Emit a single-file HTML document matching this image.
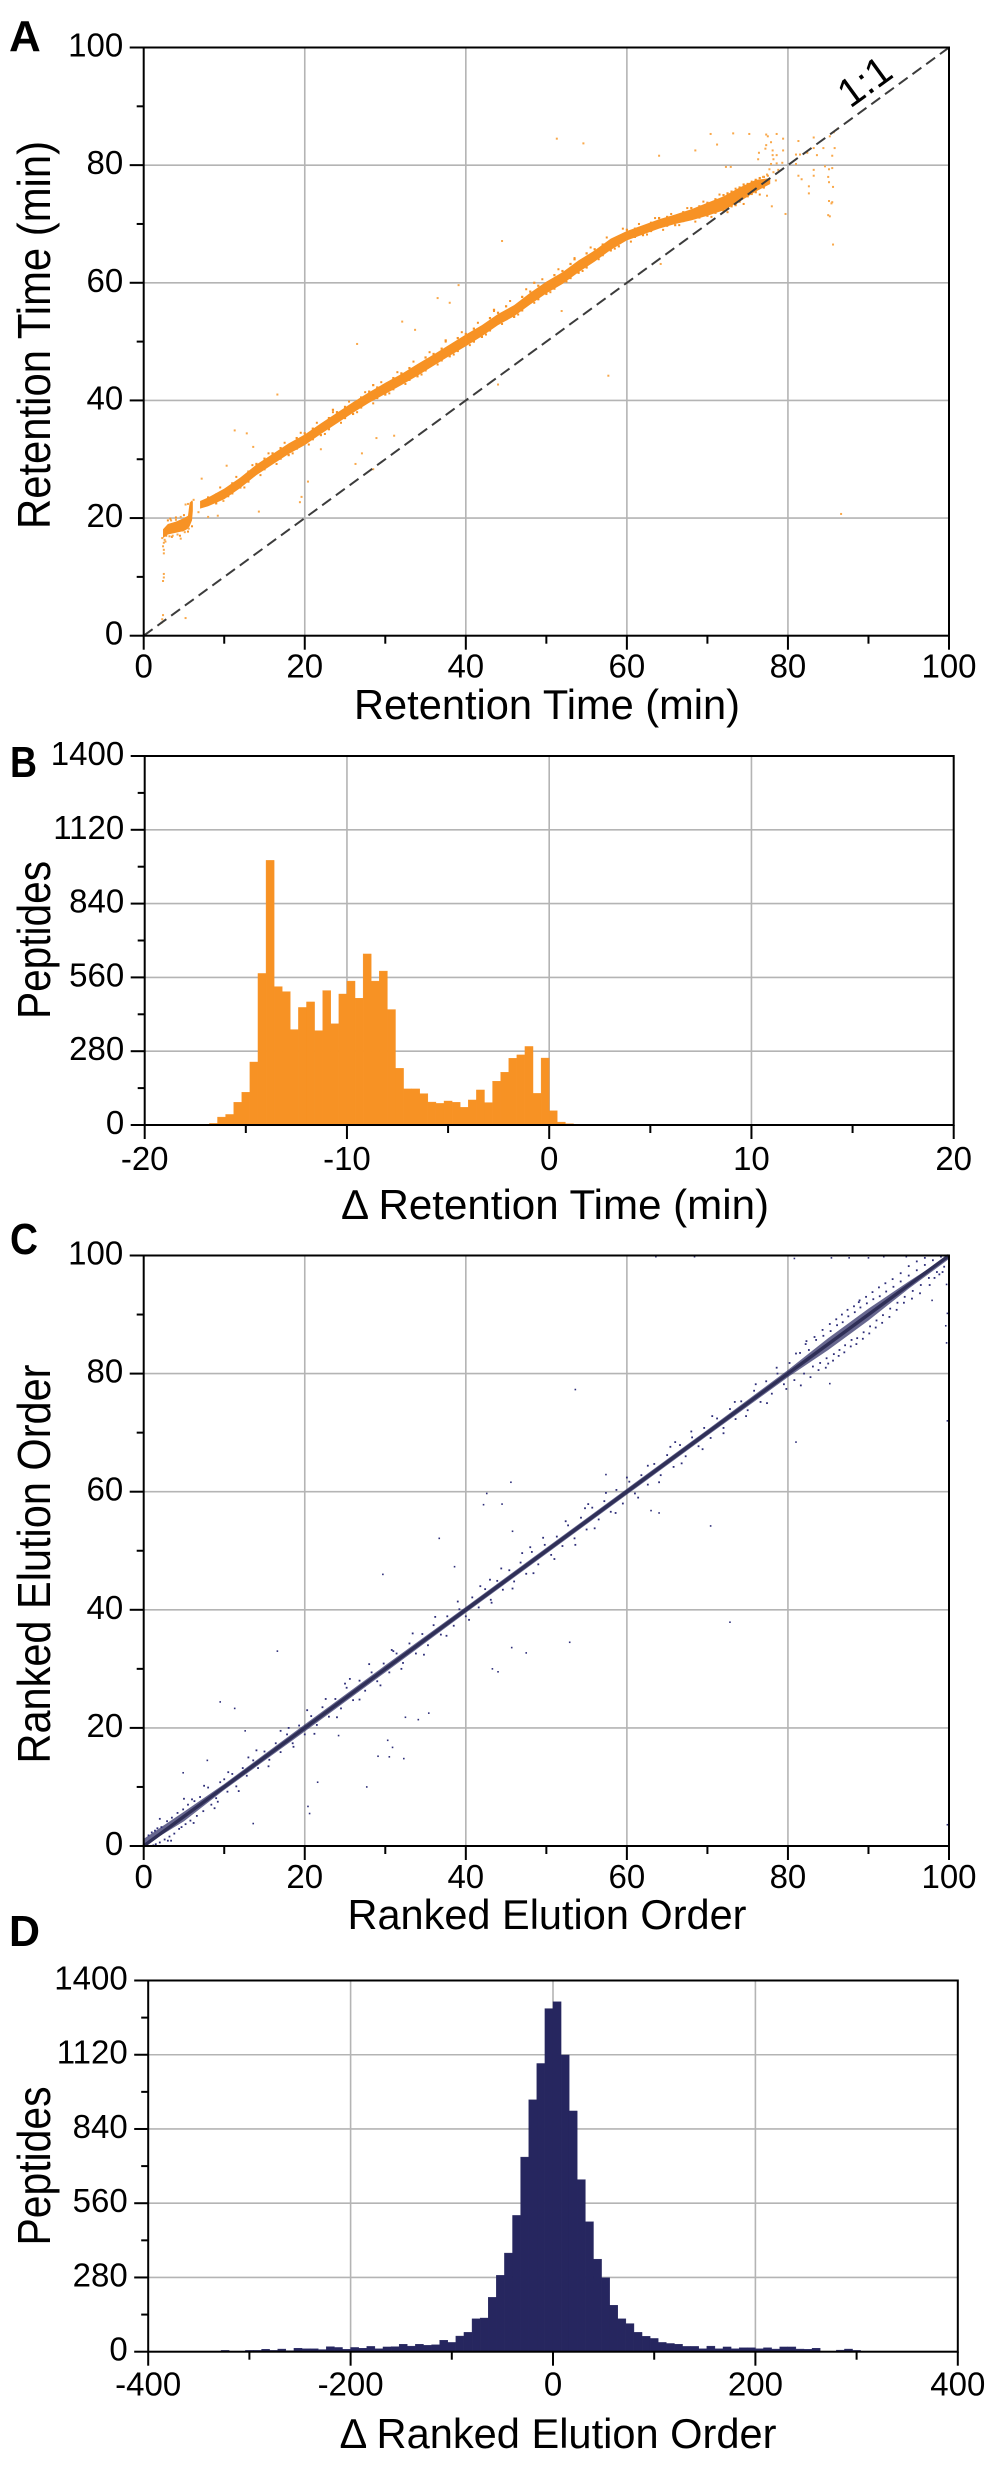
<!DOCTYPE html>
<html lang="en">
<head>
<meta charset="utf-8">
<title>Retention time and ranked elution order comparison</title>
<style>
html,body{margin:0;padding:0;background:#fff;}
svg{display:block;}
text{font-family:"Liberation Sans",sans-serif;fill:#000;}
</style>
</head>
<body>
<svg id="fig" xmlns="http://www.w3.org/2000/svg" width="1000" height="2466" viewBox="0 0 1000 2466">
  <rect x="0" y="0" width="1000" height="2466" fill="#fff"/>
  <g id="panel-a"></g>
  <g id="panel-b"></g>
  <g id="panel-c"></g>
  <g id="panel-d"></g>

  <text x="9" y="51" font-size="44" font-weight="bold">A</text>
  <text x="10" y="777" font-size="44" font-weight="bold" textLength="27" lengthAdjust="spacingAndGlyphs">B</text>
  <text x="10" y="1254" font-size="44" font-weight="bold" textLength="28" lengthAdjust="spacingAndGlyphs">C</text>
  <text x="9" y="1946" font-size="44" font-weight="bold" textLength="31" lengthAdjust="spacingAndGlyphs">D</text>

  <text x="547" y="719" font-size="42" text-anchor="middle" textLength="386" lengthAdjust="spacingAndGlyphs">Retention Time (min)</text>
  <text transform="translate(50,335) rotate(-90)" font-size="46" text-anchor="middle" textLength="388" lengthAdjust="spacingAndGlyphs">Retention Time (min)</text>
  <text transform="translate(865,82) rotate(-36)" y="13" font-size="40" text-anchor="middle">1:1</text>

  <text x="555" y="1219" font-size="42" text-anchor="middle" textLength="428" lengthAdjust="spacingAndGlyphs">Δ Retention Time (min)</text>
  <text transform="translate(50,940) rotate(-90)" font-size="46" text-anchor="middle" textLength="158" lengthAdjust="spacingAndGlyphs">Peptides</text>

  <text x="547" y="1929" font-size="42" text-anchor="middle" textLength="399" lengthAdjust="spacingAndGlyphs">Ranked Elution Order</text>
  <text transform="translate(50,1564) rotate(-90)" font-size="46" text-anchor="middle" textLength="399" lengthAdjust="spacingAndGlyphs">Ranked Elution Order</text>

  <text x="558" y="2448" font-size="42" text-anchor="middle" textLength="437" lengthAdjust="spacingAndGlyphs">Δ Ranked Elution Order</text>
  <text transform="translate(50,2166) rotate(-90)" font-size="46" text-anchor="middle" textLength="159" lengthAdjust="spacingAndGlyphs">Peptides</text>
</svg>

<script>
/* ---------- Panel A data ---------- */
var axisTicksA = [0, 20, 40, 60, 80, 100];
var axisMinorA = [10, 30, 50, 70, 90];
var gridA = [20, 40, 60, 80];

var identityLineA = [0, 100];

var ribbonEarlyX = [2.4, 3, 4, 5, 5.5, 5.7, 6, 6.1];
var ribbonEarlyLow = [16.6, 17.2, 17.5, 17.8, 18.2, 18.6, 19.6, 21.2];
var ribbonEarlyHigh = [18.1, 19, 19.4, 20, 20.4, 22.6, 23, 22.8];

var ribbonX = [7, 8, 10, 12, 14, 16, 18, 20, 22, 24, 26, 28, 30, 32, 34, 36, 38, 40, 42, 44, 46, 48, 50, 52, 54, 56, 58, 60, 62, 64, 66, 68, 70, 72, 74, 76, 77.8];
var ribbonLow = [21.6, 22, 23.2, 25.1, 27.3, 29.1, 30.9, 32.4, 34.3, 36.1, 37.9, 39.6, 41.1, 42.6, 44.2, 45.9, 47.6, 49.2, 50.9, 52.8, 54.3, 56.3, 58.2, 59.8, 61.8, 63.6, 65.6, 67.2, 68.2, 69.2, 70, 70.6, 71.4, 72.3, 73.8, 75.5, 76.8];
var ribbonHigh = [22.9, 23.5, 25, 26.9, 29.1, 30.9, 32.7, 34.2, 36.1, 37.9, 39.7, 41.4, 43, 44.5, 46.2, 47.8, 49.5, 51.2, 52.8, 54.7, 56.2, 58.3, 60.2, 61.8, 63.8, 65.5, 67.5, 68.8, 69.8, 70.8, 71.6, 72.5, 73.6, 74.7, 76.2, 77.5, 77.8];

var outliersA = [
[51.3,84.5],[54.6,83.7],[64,81.6],[68.5,82.5],[70.4,85.3],[71.2,83.5],[72.9,79.7],[44.5,67.1],[64.2,63.2],[39.1,59.6],
[36.5,57.4],[38,56.6],[32.1,53.4],[33.7,52],[26.5,49.6],[51.9,55.2],[44,42.7],[57.7,44.2],[16.6,41],[11.3,34.9],
[12.8,34.4],[13.6,32.1],[10.3,28.9],[7.2,26.7],[28.9,33.6],[31.1,34],[27.1,31],[26.3,29.2],[28.5,28.3],[22,31.7],
[20.4,26.2],[19.6,23.6],[19.4,22.7],[14.3,21.1],[86.6,20.7],[85.6,66.5],[85.2,71.3],[85.4,73.5],[73.2,85.4],[75.2,85.3],
[77.3,85.2],[78.6,85.3],[79.4,84.5],[77.5,84.9],[77.9,83.9],[77.3,83.4],[77.2,82.8],[76.4,82.1],[78.1,82.5],[79.4,82.5],
[76.3,81],[78.1,81.7],[78.6,81.7],[78.2,81],[77.9,80.2],[78.6,80.3],[77.7,79.3],[79.3,80.4],[81,81.8],[81.5,81.8],
[81,80.2],[83.2,84.7],[81.3,84.1],[83.2,82.9],[84.4,82.9],[85.8,82.9],[85.5,81.6],[82.4,82.1],[83.6,81.7],[84.6,79.8],
[85.1,79.3],[85.5,79.5],[83.2,79.2],[81.3,78.2],[81.7,77.6],[83.2,78.2],[85,78],[85.1,77.1],[85.6,76.3],[82.6,76.4],
[82.6,75.2],[85.1,73.9],[85.5,73.7],[85,71.5],[77.4,74.8],[78,73],[79.7,71.7],[72.3,79.7],[85.2,84.9],[85.7,85.6],
[86.2,86.2],[78.2,78.8],[78.8,79.2],[77.4,78.4],[76.9,78],[78.5,77.4],[2.2,2.2],[2.3,2.8],[2.4,3.5],[5.2,3],
[2.5,10.5],[2.4,9.3],[2.5,9.9],[2.5,14],[2.5,14.6],[2.4,15.2],[2.5,15.8],[2.6,16.3],[2.3,16.6],[2.7,16],
[3.2,16.9],[3.6,17],[4.2,17.2],[4.6,16.5],[5.1,17.6],[5.6,18.2],[3.4,19.6],[4,19.7],[4.6,20.2],[5.2,22.3],
[5.5,22.4],[6.2,23.1],[6.8,21],[8,20.2],[9.2,20.4],[9.9,22.9]
];

var ribbonDotsA = [
[8,23.5],[9,22.5],[9,24],[11,24.2],[11,25.9],[13,26.2],[13,27.9],[15,28.3],[15,30.1],[17,30.1],
[17,31.9],[19,31.8],[19,33.6],[21,33.4],[21,35.2],[23,35.1],[23,37],[25,37],[25,38.9],[27,38.8],
[27,40.5],[29,40.4],[29,42.2],[31,41.9],[31,43.8],[33,43.5],[33,45.5],[35,45.1],[35,47.3],[37,46.8],
[37,48.8],[39,48.4],[39,50.6],[41,50],[41,52.2],[43,51.9],[43,54],[45,53.8],[45,56],[47,55.3],
[47,57.6],[49,57.2],[49,59.5],[51,59],[51,61.3],[53,60.8],[53,63.2],[55,62.6],[55,65],[57,64.7],
[57,66.5],[59,66.2],[59,67.8],[61,67.8],[61,69.2],[63,68.8],[63,70.2],[65,69.7],[65,71.2],[67,70.5],
[67,72],[69,71.1],[69,73],[70,71.4],[70,73.6],[71,71.9],[71,74.2],[72,72.3],[72,74.9],[73,73],
[73,75.5],[74,73.8],[74,76.2],[75,74.7],[75,76.8],[76,75.4],[76,77.5],[77,76.2],[77,78],[12,25.2],
[14,29.2],[16,31],[18,30.7],[20,34.4],[22,34.1],[24,38],[26,37.7],[28,41.5],[30,41],[32,44.6],
[34,44.1],[36,47.9],[38,47.5],[40,51.3],[42,50.8],[44,54.9],[46,54.2],[48,58.5],[50,58.1],[52,62],
[54,61.7],[56,65.7],[58,65.5],[60,69],[62,68.1],[64,71],[66,69.8],[68,72.7],[72.5,75.2],[73.5,73.2],
[74.5,76.7],[75.5,75.1],[76.5,77.8],[37.5,50.2],[43.5,55.4],[48.5,60],[53.5,64],[28.5,42.6],[23.5,38.4]
];

var ribbonEdgeDotsA = [
[9.5,25.2],[10.5,23.7],[11.5,27],[12.5,25.2],[13.5,29],[14.5,27.3],[15.5,31],[16.5,29.2],[17.5,32.8],[18.5,31],
[19.5,34.5],[20.5,32.5],[21.5,36.2],[22.5,34.3],[23.5,38],[24.5,36.2],[25.5,39.8],[26.5,38],[27.5,41.4],[28.5,39.5],
[29.5,43.1],[30.5,41.2],[31.5,44.8],[32.5,42.8],[33.5,46.6],[34.5,44.4],[35.5,48.2],[36.5,46.1],[37.5,50],[38.5,47.8],
[39.5,51.6],[40.5,49.4],[41.5,53.2],[42.5,51.2],[43.5,55.2],[44.5,53],[45.5,56.9],[46.5,54.6],[47.5,58.9],[48.5,56.6],
[49.5,60.6],[50.5,58.4],[51.5,62.3],[52.5,60.2],[53.5,64.2],[54.5,62],[55.5,66],[56.5,64],[57.5,67.7],[58.5,65.8],
[59.5,69.2],[60.5,67],[61.5,70],[62.5,68.2],[63.5,71],[64.5,69],[65.5,71.7],[66.5,69.8],[67.5,72.7],[68.5,70.4],
[69.5,73.8],[70.5,71.2],[71.5,75],[72.5,72],[73.5,76],[74.5,73.4],[75.5,77.2],[76.5,75],[77.5,78.2],[3,19.6],
[3.5,16.8],[4,20.1],[4.5,17],[5,20.5],[5.5,17.7],[6,18.6],[2.8,17],[3.3,19.9],[4.8,17.9]
];

/* ---------- Panel B data ---------- */
var axisTicksBX = [-20, -10, 0, 10, 20];
var axisMinorBX = [-15, -5, 5, 15];
var axisTicksBY = [0, 280, 560, 840, 1120, 1400];
var axisMinorBY = [140, 420, 700, 980, 1260];
var gridBX = [-10, 0, 10];
var gridBY = [280, 560, 840, 1120];

var binWidthB = 0.4;
var binStartsB = [-17.2,-16.8,-16.4,-16,-15.6,-15.2,-14.8,-14.4,-14,-13.6,-13.2,-12.8,-12.4,-12,-11.6,-11.2,-10.8,-10.4,-10,-9.6,-9.2,-8.8,-8.4,-8,-7.6,-7.2,-6.8,-6.4,-6,-5.6,-5.2,-4.8,-4.4,-4,-3.6,-3.2,-2.8,-2.4,-2,-1.6,-1.2,-0.8,-0.4,0,0.4,0.8,1.2,1.6];
var countsB = [3,6,30,40,86,124,239,575,1004,525,506,362,446,467,358,510,384,497,546,481,649,546,584,438,215,137,137,119,87,82,91,86,67,95,133,85,166,200,253,266,298,120,254,54,11,5,0,2];

/* ---------- Panel C data ---------- */
var axisTicksC = [0, 20, 40, 60, 80, 100];
var axisMinorC = [10, 30, 50, 70, 90];
var gridC = [20, 40, 60, 80];

var trendX = [0, 100];
var trendY = [0, 100];

var haloX = [0, 5, 10, 20, 30, 40, 50, 60, 70, 80, 85, 90, 95, 100];
var haloLow = [0, 4.2, 9.5, 19.4, 29.4, 39.5, 49.5, 59.5, 69.5, 79.4, 84, 89, 94.4, 99.4];
var haloHigh = [1.2, 5.8, 10.5, 20.6, 30.6, 40.5, 50.5, 60.5, 70.5, 80.6, 86, 91, 95.6, 100];

var outliersC = [
[45.6,61.6],[42.6,59.7],[42.2,57.8],[44.5,57.9],[57.4,62.9],[63,56.8],[64,56.4],[53.6,77.3],[70.4,54.2],[81,68.4],
[85.2,78.3],[36.7,52.1],[45.8,53.3],[38.6,47.3],[29.7,46],[16.6,33],[45.7,33.6],[47.5,32.7],[52.9,34.5],[72.8,37.9],
[43.3,30],[44,29.5],[9.5,24.4],[11.3,23.3],[12.6,19.5],[7.9,14.5],[4.9,12.4],[13.6,3.8],[21.6,10.8],[27.7,10],
[20.4,6.7],[20.6,5.5],[24.2,18.7],[32.5,21.8],[34.1,21.4],[35.4,22.5],[30.3,17.9],[30.9,16.7],[29.1,15.2],[30.5,15.1],
[32.3,14.8],[99.8,72],[99.6,88.1],[99.7,85.2],[99.8,90.2],[99.7,95.1],[99.8,3.6],[63.6,99.8],[68.4,99.8],[80.8,99.5],
[85.4,99.6],[87.6,99.6],[90,99.6],[91.9,99.8],[94.7,99.8],[97.9,92.4]
];

var bandDotsC = [
[0.6,1.8],[1,2.3],[1.2,0.1],[1.5,0.3],[1.7,3],[2,0.6],[2.2,3.2],[2.6,1.1],[2.9,4.2],[3.2,1.6],
[3.5,4.8],[3.8,2.1],[4.2,5.6],[4.4,2.9],[4.9,6.2],[5.2,3.7],[5.5,7],[5.8,4.3],[6.3,7.6],[6.6,5.1],
[7,8.3],[7.4,5.9],[8,9.9],[8.4,7],[9,8.1],[9.5,10.8],[10,11.3],[10.4,9.2],[11,12.2],[11.5,10.1],
[12.3,13.2],[12.8,11.9],[13.6,14.5],[14.2,13.2],[15,16],[15.6,14.6],[16.4,17.4],[17,15.9],[17.8,18.9],[18.5,17.4],
[19.3,20.4],[20,18.9],[20.8,22],[21.5,20.5],[22.2,23.5],[23,21.9],[23.8,24.9],[24.5,23.3],[25.2,26.8],[26,24.7],
[26.8,28],[27.5,26.3],[28.3,29.4],[29,27.9],[29.8,30.9],[30.5,29.4],[31.4,32.6],[32.2,31],[33,34.3],[33.8,32.6],
[34.6,35.9],[35.3,34],[36,37.4],[36.9,35.8],[37.7,38.9],[38.5,37.3],[39.2,40.1],[40,38.9],[40.8,42.1],[41.6,40.4],
[42.4,43.5],[43.1,41.7],[43.9,44.9],[44.6,43.4],[45.4,46.7],[46,44.8],[46.8,48],[47.5,46.1],[48.2,49.8],[49,47.7],
[49.8,51],[50.6,49.3],[51.3,52.4],[52,50.8],[52.7,54.3],[53.5,52.1],[54.3,55.6],[55,53.6],[55.7,57.3],[56.5,55.3],
[57.2,58.4],[58,56.6],[58.7,60.3],[59.5,58],[60.3,61.7],[61,59.7],[61.8,62.8],[62.6,61.2],[63.4,64.7],[64.2,62.8],
[65,66.2],[65.8,64.2],[66.6,67.9],[67.3,66],[68.1,69.2],[68.9,67.7],[69.6,70.8],[70.4,69.1],[71.2,72.4],[72,70.8],
[72.8,74],[73.5,72.3],[74.2,75.3],[75,73.8],[75.8,77.1],[76.6,75.2],[77.3,78.7],[78,76.6],[78.7,80],[79.5,78.2],
[80.2,81.8],[80.8,78.9],[81.5,83.5],[82,80],[82.6,84],[83.1,81.2],[83.5,85.7],[84,81.8],[84.4,86.4],[84.8,82.6],
[85.3,87.2],[85.7,83.3],[86.1,88.2],[86.4,84],[86.8,88.7],[87.1,84.8],[87.5,89.7],[87.9,85.7],[88.3,90.4],[88.6,86],
[89,91.2],[89.4,87],[89.8,91.9],[90.2,88],[90.6,92.6],[91,89],[91.4,93.1],[91.8,89.9],[92.2,93.9],[92.7,91],
[93.1,94.7],[93.6,92],[94,95.6],[94.5,93],[95,96.6],[95.5,94],[96,97.5],[96.5,95],[97,98.4],[97.5,96.2],
[98,99.2],[98.5,97.2],[99,99.8],[99.4,98.1],[1.4,2.6],[3,0.9],[4.7,3.2],[6,7.9],[9.2,7.5],[13,15],
[18,20],[25,27.5],[31,33],[43,45.1],[48,50.6],[55.2,57.9],[66,68.4],[82.3,85.5],[85,81.7],[88.8,92.1]
];

var wideDotsC = [
[2,4.6],[3.4,0.9],[5,8],[6.2,3.9],[7.5,10.2],[8.8,6.4],[10.5,12.5],[11.8,9.3],[14,16.2],[15.5,13.5],
[17,19.5],[18.6,16.8],[20.3,23],[21.2,19],[22.6,24.9],[24,21.8],[25.6,28.3],[26.8,24.8],[28,30.8],[29.4,27.2],
[30.8,33.2],[32,30],[33.4,36],[34.8,32.4],[36.2,38.8],[37.6,35.6],[39,41.4],[40.4,38.3],[41.8,44],[43.2,41.2],
[44.4,47],[45.8,43.6],[47,49.6],[48.4,46.2],[49.6,52.2],[51,48.6],[52.4,55],[53.6,51],[54.8,57.2],[56,53.8],
[57.4,59.8],[58.6,56.4],[60,62.4],[61.4,59],[62.6,64.4],[64,61.6],[65.4,67.6],[66.8,64.8],[68,70.2],[69.4,67.2],
[70.6,72.8],[72,69.9],[73.4,75.2],[74.8,72.8],[76,78.2],[77.4,75],[78.6,81],[79.8,77.4],[81,83.4],[81.6,78],
[82.2,85],[82.8,79.4],[83.3,86.2],[83.8,80.6],[84.3,87.4],[84.7,81],[85.2,88.4],[85.6,82.2],[86,89.2],[86.3,83],
[86.7,90],[87,83.6],[87.4,90.8],[87.8,84.6],[88.2,91.4],[88.5,85],[88.9,92.4],[89.3,85.9],[89.7,93],[90.1,86.8],
[90.5,93.8],[90.9,87.8],[91.3,94.6],[91.7,88.6],[92.1,95.3],[92.6,89.6],[93,96],[93.5,90.8],[94,97],[94.4,92],
[95,98.2],[95.4,92.7],[96,99],[96.4,93.6],[97,99.6],[97.6,95],[98.2,96.2],[98.8,96.8],[99.2,97.2]
];

/* ---------- Panel D data ---------- */
var axisTicksDX = [-400, -200, 0, 200, 400];
var axisMinorDX = [-300, -100, 100, 300];
var axisTicksDY = [0, 280, 560, 840, 1120, 1400];
var axisMinorDY = [140, 420, 700, 980, 1260];
var gridDX = [-200, 0, 200];
var gridDY = [280, 560, 840, 1120];

var binWidthD = 8;
var binStartsD = [-328,-304,-296,-288,-280,-272,-264,-256,-248,-240,-232,-224,-216,-208,-200,-192,-184,-176,-168,-160,-152,-144,-136,-128,-120,-112,-104,-96,-88,-80,-72,-64,-56,-48,-40,-32,-24,-16,-8,0,8,16,24,32,40,48,56,64,72,80,88,96,104,112,120,128,136,144,152,160,168,176,184,192,200,208,216,224,232,240,248,256,280,288,296];
var countsD = [5,5,5,9,5,10,4,13,11,11,8,19,16,9,16,13,20,11,18,19,28,21,28,24,26,43,35,59,73,124,127,205,288,372,514,734,950,1087,1294,1320,1119,908,649,490,349,279,175,124,106,73,58,50,35,31,28,20,20,11,21,11,18,11,15,15,11,15,10,18,18,10,9,13,6,10,5];

/* ---------- Drawing helpers ---------- */
var NS = 'http://www.w3.org/2000/svg';
var ORANGE = '#f79224';
var NAVY = '#26265f';
var GRID = '#b4b4b4';

function make(parent, tag, attrs) {
  var el = document.createElementNS(NS, tag);
  for (var k in attrs) { el.setAttribute(k, attrs[k]); }
  parent.appendChild(el);
  return el;
}
function linearScale(d0, d1, r0, r1) {
  return function (v) { return r0 + (v - d0) / (d1 - d0) * (r1 - r0); };
}
function drawGrid(g, xScale, yScale, box, xs, ys) {
  xs.forEach(function (v) {
    var el = make(g, 'line', {x1: xScale(v), x2: xScale(v), y1: box.top, y2: box.bottom, stroke: GRID, 'stroke-width': 1.6});
    
    
  });
  ys.forEach(function (v) {
    var el = make(g, 'line', {x1: box.left, x2: box.right, y1: yScale(v), y2: yScale(v), stroke: GRID, 'stroke-width': 1.6});
    
    
  });
}
function drawAxes(g, xScale, yScale, box, xTicks, xMinor, yTicks, yMinor, labelDrop) {
  var frame = make(g, 'rect', {x: box.left, y: box.top, width: box.right - box.left, height: box.bottom - box.top, fill: 'none', stroke: '#000', 'stroke-width': 2});
  
  
  xMinor.forEach(function (v) {
    var el = make(g, 'line', {x1: xScale(v), x2: xScale(v), y1: box.bottom, y2: box.bottom + 8, stroke: '#000', 'stroke-width': 2});
    
    
  });
  yMinor.forEach(function (v) {
    var el = make(g, 'line', {x1: box.left - 7, x2: box.left, y1: yScale(v), y2: yScale(v), stroke: '#000', 'stroke-width': 2});
    
    
  });
  xTicks.forEach(function (v) {
    var t = make(g, 'line', {x1: xScale(v), x2: xScale(v), y1: box.bottom, y2: box.bottom + 14, stroke: '#000', 'stroke-width': 2});
    
    
    var lab = make(g, 'text', {x: xScale(v), y: box.bottom + labelDrop, 'font-size': 33, 'text-anchor': 'middle'});
    lab.textContent = String(v);
    
    
  });
  yTicks.forEach(function (v) {
    var t = make(g, 'line', {x1: box.left - 14, x2: box.left, y1: yScale(v), y2: yScale(v), stroke: '#000', 'stroke-width': 2});
    
    
    var lab = make(g, 'text', {x: box.left - 20.5, y: yScale(v) + 9, 'font-size': 33, 'text-anchor': 'end'});
    lab.textContent = String(v);
    
    
  });
}
function bandPoints(xs, lows, highs, xScale, yScale) {
  var pts = [];
  xs.forEach(function (x, i) { pts.push(xScale(x) + ',' + yScale(highs[i])); });
  for (var i = xs.length - 1; i >= 0; i--) { pts.push(xScale(xs[i]) + ',' + yScale(lows[i])); }
  return pts.join(' ');
}
function drawDots(g, pts, xScale, yScale, color, size, name) {
  pts.forEach(function (p) {
    var el = make(g, 'rect', {x: xScale(p[0]) - size / 2, y: yScale(p[1]) - size / 2, width: size, height: size, fill: color});
    
    
  });
}
function drawBars(g, starts, counts, width, xScale, yScale, color) {
  starts.forEach(function (s, i) {
    var x0 = xScale(s), x1 = xScale(s + width), y = yScale(counts[i]);
    var el = make(g, 'rect', {x: x0, y: y, width: x1 - x0, height: yScale(0) - y, fill: color, stroke: color, 'stroke-width': 0.4});
    
    
  });
}

/* ---------- Panel A ---------- */
(function () {
  var g = document.getElementById('panel-a');
  var box = {left: 143.7, right: 949, top: 47.5, bottom: 635.7};
  var xS = linearScale(0, 100, box.left, box.right);
  var yS = linearScale(0, 100, box.bottom, box.top);
  drawGrid(g, xS, yS, box, gridA, gridA);
  var early = make(g, 'polygon', {points: bandPoints(ribbonEarlyX, ribbonEarlyLow, ribbonEarlyHigh, xS, yS), fill: ORANGE});
  
  
  var ribbon = make(g, 'polygon', {points: bandPoints(ribbonX, ribbonLow, ribbonHigh, xS, yS), fill: ORANGE});
  
  
  drawDots(g, ribbonDotsA, xS, yS, ORANGE, 2.2, 'ribbon-point');
  drawDots(g, ribbonEdgeDotsA, xS, yS, ORANGE, 2, 'ribbon-edge-point');
  drawDots(g, outliersA, xS, yS, '#f9a84a', 2, 'outlier-point');
  var id = make(g, 'line', {x1: xS(identityLineA[0]), y1: yS(identityLineA[0]), x2: xS(identityLineA[1]), y2: yS(identityLineA[1]), stroke: '#3c3c3c', 'stroke-width': 2, 'stroke-dasharray': '11 6'});
  
  
  drawAxes(g, xS, yS, box, axisTicksA, axisMinorA, axisTicksA, axisMinorA, 42);
})();

/* ---------- Panel B ---------- */
(function () {
  var g = document.getElementById('panel-b');
  var box = {left: 144.7, right: 953.7, top: 756, bottom: 1125};
  var xS = linearScale(-20, 20, box.left, box.right);
  var yS = linearScale(0, 1400, box.bottom, box.top);
  drawGrid(g, xS, yS, box, gridBX, gridBY);
  drawBars(g, binStartsB, countsB, binWidthB, xS, yS, ORANGE);
  drawAxes(g, xS, yS, box, axisTicksBX, axisMinorBX, axisTicksBY, axisMinorBY, 45);
})();

/* ---------- Panel C ---------- */
(function () {
  var g = document.getElementById('panel-c');
  var box = {left: 143.7, right: 949, top: 1255.5, bottom: 1846};
  var xS = linearScale(0, 100, box.left, box.right);
  var yS = linearScale(0, 100, box.bottom, box.top);
  drawGrid(g, xS, yS, box, gridC, gridC);
  var halo = make(g, 'polygon', {points: bandPoints(haloX, haloLow, haloHigh, xS, yS), fill: NAVY, 'fill-opacity': 0.7});
  
  
  drawDots(g, bandDotsC, xS, yS, '#2d2d78', 1.8, 'rank-point');
  drawDots(g, wideDotsC, xS, yS, '#2d2d78', 1.8, 'rank-wide-point');
  drawDots(g, outliersC, xS, yS, '#2d2d78', 1.6, 'outlier-point');
  var core = make(g, 'line', {x1: xS(trendX[0]), y1: yS(trendY[0]), x2: xS(trendX[1]), y2: yS(trendY[1]), stroke: '#2f2f57', 'stroke-width': 3.4});
  
  
  drawAxes(g, xS, yS, box, axisTicksC, axisMinorC, axisTicksC, axisMinorC, 42);
})();

/* ---------- Panel D ---------- */
(function () {
  var g = document.getElementById('panel-d');
  var box = {left: 148.2, right: 957.8, top: 1980.5, bottom: 2351.7};
  var xS = linearScale(-400, 400, box.left, box.right);
  var yS = linearScale(0, 1400, box.bottom, box.top);
  drawGrid(g, xS, yS, box, gridDX, gridDY);
  drawBars(g, binStartsD, countsD, binWidthD, xS, yS, NAVY);
  drawAxes(g, xS, yS, box, axisTicksDX, axisMinorDX, axisTicksDY, axisMinorDY, 44);
})();
</script>
</body>
</html>
